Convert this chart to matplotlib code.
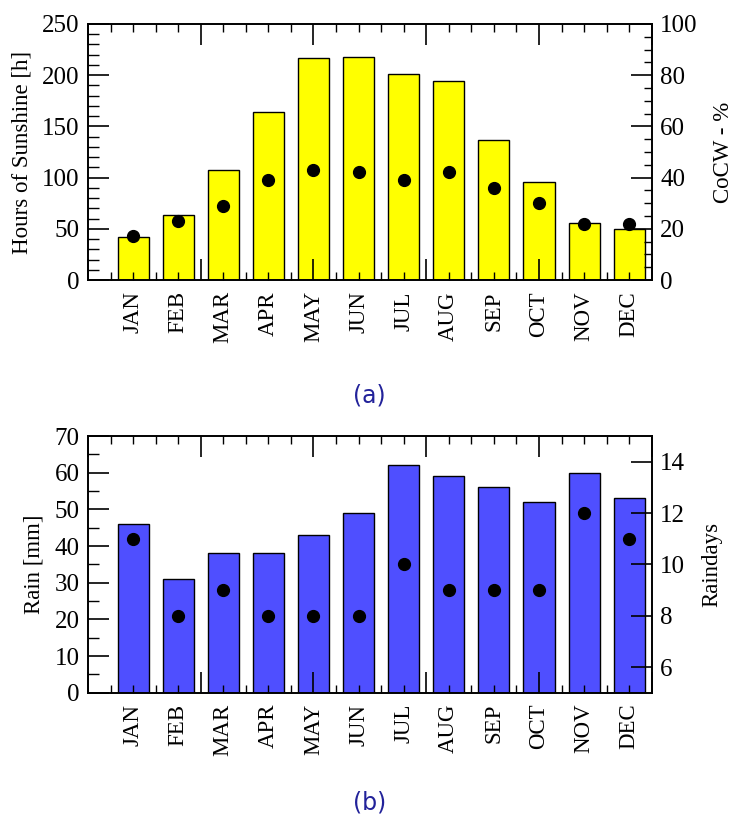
import matplotlib
matplotlib.use("Agg")
import matplotlib.pyplot as plt
from matplotlib.ticker import MultipleLocator

# ─── Datos ────────────────────────────────────────────────────────────────────
MONTHS = ["JAN", "FEB", "MAR", "APR", "MAY", "JUN",
          "JUL", "AUG", "SEP", "OCT", "NOV", "DEC"]
SUNSHINE_H = [42, 63, 107, 164, 217, 218, 201, 194, 137, 96, 56, 50]
COCW_PCT = [17, 23, 29, 39, 43, 42, 39, 42, 36, 30, 22, 22]
RAIN_MM = [46, 31, 38, 38, 43, 49, 62, 59, 56, 52, 60, 53]
RAINDAYS = [11, 8, 9, 8, 8, 8, 10, 9, 9, 9, 12, 11]

# ─── Estilo ───────────────────────────────────────────────────────────────────
plt.rcParams.update({
    "font.family": ["Liberation Serif", "DejaVu Serif"],
    "font.size": 16,
    "axes.linewidth": 1.2,
    "xtick.direction": "in",
    "ytick.direction": "in",
})

CAPTION_COLOR = "#22229a"

x = list(range(1, len(MONTHS) + 1))


def _style_panel(ax, ax2, left_major, left_minor, right_major, right_minor):
    ax.set_xlim(0, 12.5)
    ax.xaxis.set_major_locator(MultipleLocator(2.5))
    ax.xaxis.set_minor_locator(MultipleLocator(0.5))
    ax.tick_params(axis="x", which="both", top=True, labelbottom=False)
    ax.tick_params(axis="x", which="major", length=15, width=1.2)
    ax.tick_params(axis="x", which="minor", length=6, width=1.0)

    ax.yaxis.set_major_locator(MultipleLocator(left_major))
    ax.yaxis.set_minor_locator(MultipleLocator(left_minor))
    ax.tick_params(axis="y", which="major", length=15, width=1.2, pad=6, labelsize=18)
    ax.tick_params(axis="y", which="minor", length=8, width=1.0)

    ax2.yaxis.set_major_locator(MultipleLocator(right_major))
    if right_minor:
        ax2.yaxis.set_minor_locator(MultipleLocator(right_minor))
    ax2.tick_params(axis="y", which="major", length=15, width=1.2, pad=6, labelsize=18)
    ax2.tick_params(axis="y", which="minor", length=6, width=1.0)

    # etiquetas de meses
    sec = ax.secondary_xaxis("bottom")
    sec.set_xticks(x, MONTHS, rotation=90)
    sec.tick_params(length=0, pad=8, labelsize=16.5)
    sec.spines["bottom"].set_visible(False)


fig = plt.figure(figsize=(7.35, 8.19), dpi=100)

# ─── (a) Sol ──────────────────────────────────────────────────────────────────
ax = fig.add_axes([0.1197, 0.6581, 0.767, 0.3126])
ax.bar(x, SUNSHINE_H, width=0.69, color="#ffff00", edgecolor="black", linewidth=1.0)
ax.set_ylim(0, 250)
ax.set_ylabel("Hours of Sunshine [h]", fontsize=16.5, labelpad=7)
ax2 = ax.twinx()
ax2.plot(x, COCW_PCT, "o", color="black", markersize=8.5, linestyle="none")
ax2.set_ylim(0, 100)
ax2.set_ylabel("CoCW - %", fontsize=16.5, labelpad=11)
_style_panel(ax, ax2, 50, 10, 20, 5)
fig.text(0.503, 0.517, "(a)", ha="center", va="center", fontsize=17,
         color=CAPTION_COLOR, family=["DejaVu Sans"])

# ─── (b) Lluvia ───────────────────────────────────────────────────────────────
bx = fig.add_axes([0.1197, 0.1542, 0.767, 0.3134])
bx.bar(x, RAIN_MM, width=0.69, color="#4f4fff", edgecolor="black", linewidth=1.0)
bx.set_ylim(0, 70)
bx.set_ylabel("Rain [mm]", fontsize=16.5, labelpad=7)
bx2 = bx.twinx()
bx2.plot(x, RAINDAYS, "o", color="black", markersize=8.5, linestyle="none")
bx2.set_ylim(5, 15)
bx2.set_ylabel("Raindays", fontsize=16.5, labelpad=12)
_style_panel(bx, bx2, 10, 5, 2, None)
bx2.tick_params(axis="y", which="minor", length=0)
fig.text(0.503, 0.020, "(b)", ha="center", va="center", fontsize=17,
         color=CAPTION_COLOR, family=["DejaVu Sans"])

fig.savefig("out.png", dpi=100)
